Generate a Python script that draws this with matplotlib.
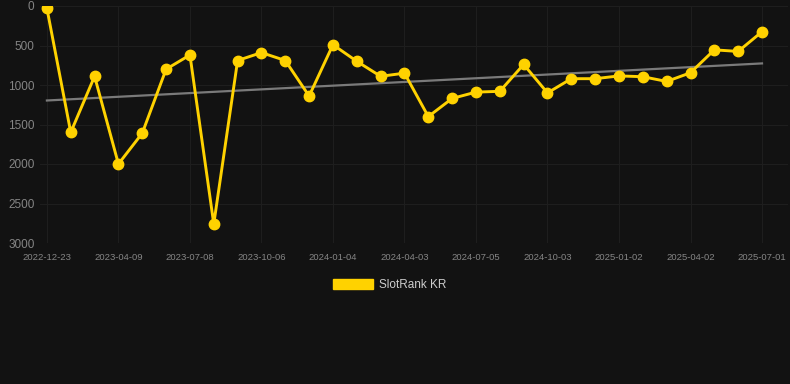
import numpy as np
import matplotlib.pyplot as plt
from matplotlib.patches import Patch

plt.rcParams['font.family'] = ['Liberation Sans', 'DejaVu Sans']

# monthly snapshots of the rank (lower is better)
dates = [
    "2022-12-23", "2023-01-28", "2023-03-04", "2023-04-09", "2023-05-09",
    "2023-06-08", "2023-07-08", "2023-08-07", "2023-09-06", "2023-10-06",
    "2023-11-05", "2023-12-05", "2024-01-04", "2024-02-03", "2024-03-04",
    "2024-04-03", "2024-05-04", "2024-06-04", "2024-07-05", "2024-08-04",
    "2024-09-03", "2024-10-03", "2024-11-02", "2024-12-03", "2025-01-02",
    "2025-02-01", "2025-03-03", "2025-04-02", "2025-05-02", "2025-06-01",
    "2025-07-01",
]
rank = [
    30, 1600, 890, 2000, 1610, 800, 620, 2760, 690, 590,
    690, 1140, 490, 700, 890, 850, 1400, 1170, 1090, 1080,
    740, 1100, 920, 920, 885, 895, 955, 845, 555, 575,
    325,
]
y_ticks = [0, 500, 1000, 1500, 2000, 2500, 3000]
label_step = 3

bg = "#121212"
gold = "#FFD200"

x = np.arange(len(dates))
slope, icpt = np.polyfit(x, rank, 1)

fig = plt.figure(figsize=(7.9, 3.84), dpi=100, facecolor=bg)
ax = fig.add_axes([40 / 790, 141 / 384, 748 / 790, 237 / 384], facecolor=bg)

ax.plot(x, slope * x + icpt, color="#7a7a7a", lw=1.6, zorder=2)
ax.plot(x, rank, color=gold, lw=2.1, marker="o", ms=7.5,
        solid_joinstyle="miter", zorder=3)

ax.set_xlim(-0.29, 31.09)
ax.set_ylim(3000, 0)
ax.set_yticks(y_ticks)
ax.set_yticklabels([str(v) for v in y_ticks])
ax.set_xticks(x[::label_step])
ax.set_xticklabels(dates[::label_step])

ax.tick_params(axis="y", length=0, pad=4, labelsize=8.5, labelcolor="#858585")
ax.tick_params(axis="x", length=0, pad=7, labelsize=6.8, labelcolor="#858585")
ax.grid(True, color="#1e1e1e", lw=0.8)
ax.set_axisbelow(True)
for s in ax.spines.values():
    s.set_visible(False)

fig.legend(handles=[Patch(facecolor=gold, edgecolor=gold, label="SlotRank KR")],
           loc="center", bbox_to_anchor=(390 / 790, 1 - 285 / 384),
           frameon=False, fontsize=8.5, labelcolor="#cccccc",
           handlelength=3.4, handleheight=1.0, handletextpad=0.5)

fig.savefig("out.png", dpi=100, facecolor=bg)
